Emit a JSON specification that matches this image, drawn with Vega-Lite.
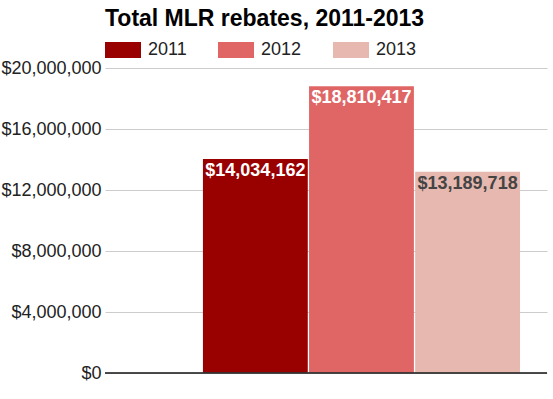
{
  "$schema": "https://vega.github.io/schema/vega-lite/v6.json",
  "width": 442,
  "height": 305,
  "autosize": {"type": "none"},
  "padding": {"left": 105, "top": 68, "right": 6, "bottom": 26},
  "background": "white",
  "title": {
    "text": "Total MLR rebates, 2011-2013",
    "font": "Liberation Sans",
    "fontSize": 23,
    "fontWeight": "bold",
    "color": "#000000",
    "anchor": "start",
    "frame": "group",
    "offset": 1,
    "dx": 0
  },
  "data": {
    "values": [
      {"group": "Total", "year": "2011", "rebates": 14034162},
      {"group": "Total", "year": "2012", "rebates": 18810417},
      {"group": "Total", "year": "2013", "rebates": 13189718}
    ]
  },
  "encoding": {
    "x": {"field": "group", "type": "nominal", "axis": null,
      "scale": {"paddingInner": 0, "paddingOuter": 0.197, "align": 0.784}},
    "xOffset": {"field": "year", "type": "nominal",
      "scale": {"paddingInner": 0.012, "paddingOuter": 0}},
    "y": {"field": "rebates", "type": "quantitative",
      "scale": {"domain": [0, 20000000], "nice": false},
      "axis": {
        "title": null,
        "values": [0, 4000000, 8000000, 12000000, 16000000, 20000000],
        "format": "$,.0f",
        "labelFont": "Liberation Sans",
        "labelFontSize": 18,
        "labelColor": "#222222",
        "labelPadding": 4,
        "ticks": false,
        "domain": false,
        "gridColor": "#cccccc",
        "gridWidth": 1
      }
    }
  },
  "layer": [
    {
      "mark": {"type": "bar"},
      "encoding": {
        "color": {"field": "year", "type": "nominal",
          "scale": {"domain": ["2011", "2012", "2013"], "range": ["#990000", "#e06666", "#e6b8af"]},
          "legend": {
            "title": null,
            "orient": "none",
            "direction": "horizontal",
            "legendX": 0,
            "legendY": -36,
            "symbolType": "M-1,-0.45H1V0.45H-1Z",
            "symbolSize": 1296,
            "symbolStrokeWidth": 0,
            "symbolOpacity": 1,
            "labelFont": "Liberation Sans",
            "labelFontSize": 18,
            "labelColor": "#222222",
            "labelOffset": 7,
            "columnPadding": 31
          }
        }
      }
    },
    {
      "mark": {"type": "text", "baseline": "alphabetic", "dy": 17, "font": "Liberation Sans", "fontSize": 18, "fontWeight": "bold"},
      "encoding": {
        "text": {"field": "rebates", "type": "quantitative", "format": "$,.0f"},
        "color": {"condition": {"test": "datum.year == '2013'", "value": "#444444"}, "value": "#ffffff"}
      }
    },
    {
      "mark": {"type": "rule", "color": "#333333", "strokeWidth": 1},
      "encoding": {"y": {"datum": 0}, "x": null, "xOffset": null}
    }
  ],
  "config": {"view": {"stroke": null}}
}
